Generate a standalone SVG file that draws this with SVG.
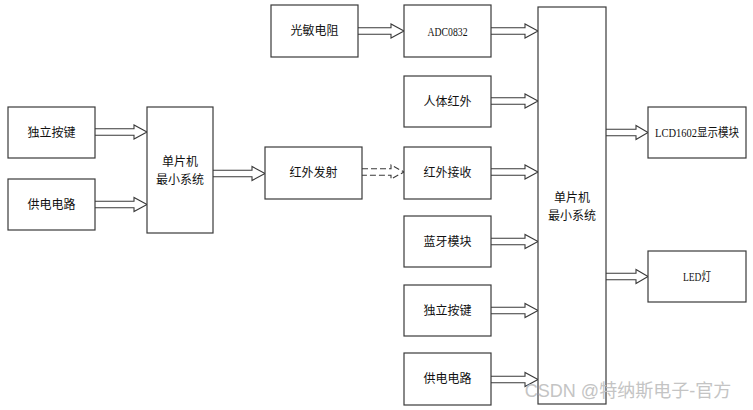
<svg xmlns="http://www.w3.org/2000/svg" width="753" height="410" viewBox="0 0 753 410">
<style>
.box{fill:#fff;stroke:#3a3a3a;stroke-width:1.2}
.t{font-family:"Liberation Serif","Noto Sans CJK SC",serif;font-size:12px;fill:#111;text-anchor:middle;dominant-baseline:central}
.lat{font-size:13px}
.ar{fill:none;stroke:#3a3a3a;stroke-width:1.1;stroke-linejoin:miter}
.dash{stroke-dasharray:6 3}
.wm{font-family:"Liberation Sans","Noto Sans CJK SC",sans-serif;font-size:18px;fill:#c4c4c4;text-anchor:middle;dominant-baseline:central}
</style>
<rect width="753" height="410" fill="#fff"/>
<g id="connectors">
<path class="ar" d="M95 128.7H134V125L147 132L134 139V135.3H95"/>
<path class="ar" d="M95 201.2H134V197.5L147 204.5L134 211.5V207.8H95"/>
<path class="ar" d="M213 170.2H252V166.5L265 173.5L252 180.5V176.8H213"/>
<path class="ar" d="M358 27.7H391V24L404 31L391 38V34.3H358"/>
<path class="ar dash" d="M362 168.7H391V165L404 172L391 179V175.3H362"/>
<path class="ar" d="M491 27.7H525V24L538 31L525 38V34.3H491"/>
<path class="ar" d="M491 97.7H525V94L538 101L525 108V104.3H491"/>
<path class="ar" d="M491 168.7H525V165L538 172L525 179V175.3H491"/>
<path class="ar" d="M491 238.2H525V234.5L538 241.5L525 248.5V244.8H491"/>
<path class="ar" d="M491 307.2H525V303.5L538 310.5L525 317.5V313.8H491"/>
<path class="ar" d="M491 376.2H525V372.5L538 379.5L525 386.5V382.8H491"/>
<path class="ar" d="M606 129.2H636V125.5L648 132.5L636 139.5V135.8H606"/>
<path class="ar" d="M606 273.2H636V269.5L648 276.5L636 283.5V279.8H606"/>
</g>
<g id="n_key_l"><rect class="box" x="8" y="107" width="87" height="51"/><text class="t" x="51.5" y="132.5">独立按键</text></g>
<g id="n_pwr_l"><rect class="box" x="8" y="179" width="87" height="51"/><text class="t" x="51.5" y="204.5">供电电路</text></g>
<g id="n_mcu_l"><rect class="box" x="147" y="107" width="66" height="126"/><text class="t" x="180" y="162">单片机</text><text class="t" x="180" y="180">最小系统</text></g>
<g id="n_irtx"><rect class="box" x="265" y="147" width="97" height="52"/><text class="t" x="313.5" y="173">红外发射</text></g>
<g id="n_ldr"><rect class="box" x="271" y="5" width="87" height="52"/><text class="t" x="314.5" y="31">光敏电阻</text></g>
<g id="n_adc"><rect class="box" x="404" y="5" width="87" height="52"/><text class="t lat" x="447.5" y="31" textLength="40" lengthAdjust="spacingAndGlyphs">ADC0832</text></g>
<g id="n_pir"><rect class="box" x="404" y="76" width="87" height="51"/><text class="t" x="447.5" y="101.5">人体红外</text></g>
<g id="n_irrx"><rect class="box" x="404" y="147" width="87" height="52"/><text class="t" x="447.5" y="173">红外接收</text></g>
<g id="n_bt"><rect class="box" x="404" y="216" width="87" height="51"/><text class="t" x="447.5" y="241.5">蓝牙模块</text></g>
<g id="n_key_r"><rect class="box" x="404" y="285" width="87" height="51"/><text class="t" x="447.5" y="310.5">独立按键</text></g>
<g id="n_pwr_r"><rect class="box" x="404" y="353" width="87" height="52"/><text class="t" x="447.5" y="379">供电电路</text></g>
<g id="n_mcu_r"><rect class="box" x="538" y="7" width="68" height="397"/><text class="t" x="572" y="198">单片机</text><text class="t" x="572" y="216">最小系统</text></g>
<g id="n_lcd"><rect class="box" x="648" y="107" width="98" height="51"/><text class="t" x="697" y="132.5" textLength="84" lengthAdjust="spacingAndGlyphs">LCD1602显示模块</text></g>
<g id="n_led"><rect class="box" x="648" y="251" width="98" height="51"/><text class="t" x="697" y="276.5" textLength="28" lengthAdjust="spacingAndGlyphs">LED灯</text></g>
<text class="wm" x="628" y="391">CSDN @特纳斯电子-官方</text>
</svg>
